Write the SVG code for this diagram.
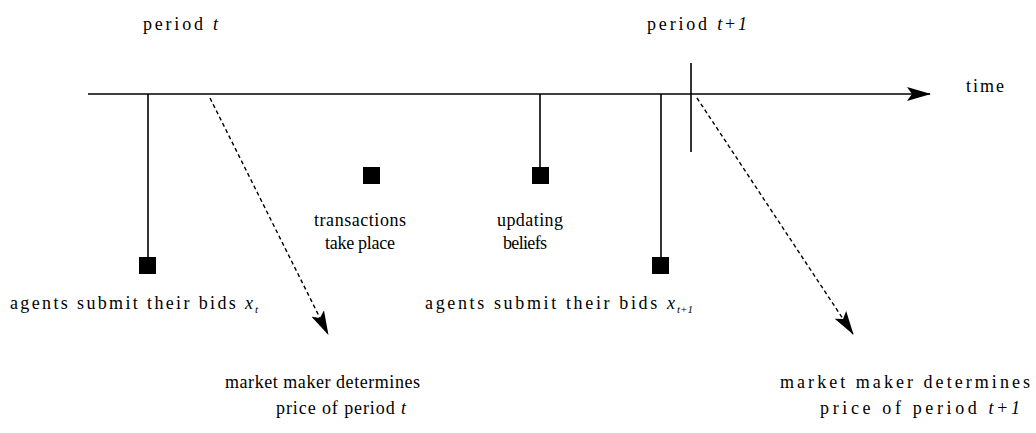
<svg xmlns="http://www.w3.org/2000/svg" width="1036" height="433" viewBox="0 0 1036 433">
<style>
text{font-family:"Liberation Serif","Times New Roman",serif;font-size:18px;fill:#000}
.ln{stroke:#000;stroke-width:1.6;fill:none}
.dash{stroke:#000;stroke-width:1.4;fill:none;stroke-dasharray:4 3}
.sq{fill:#000}
.it{font-style:italic}
.sub{font-size:11px;font-style:italic}
</style>
<defs>
<marker id="ah2" markerWidth="24" markerHeight="14" refX="23" refY="7" orient="auto" markerUnits="userSpaceOnUse">
<path d="M0,0 L24,7 L0,14 L5,7 Z" fill="#000"/>
</marker>
</defs>
<g id="connectors">
<line class="ln" x1="88" y1="94" x2="930" y2="94" marker-end="url(#ah2)"/>
<line class="ln" x1="148" y1="94" x2="148" y2="260"/>
<line class="ln" x1="540" y1="94" x2="540" y2="170"/>
<line class="ln" x1="661" y1="94" x2="661" y2="260"/>
<line class="ln" x1="691" y1="63" x2="691" y2="152"/>
<line class="dash" x1="210" y1="98" x2="328" y2="334" marker-end="url(#ah2)"/>
<line class="dash" x1="697" y1="98" x2="853" y2="334" marker-end="url(#ah2)"/>
</g>
<g id="period-t"><text x="143" y="30" textLength="75" lengthAdjust="spacing">period <tspan class="it">t</tspan></text></g>
<g id="period-t1"><text x="647" y="30" textLength="100" lengthAdjust="spacing">period <tspan class="it">t</tspan>+<tspan class="it">1</tspan></text></g>
<g id="time"><text x="966" y="92" textLength="38" lengthAdjust="spacing">time</text></g>
<g id="bids-t">
<rect class="sq" x="139" y="257" width="17" height="17"/>
<text x="10" y="309" textLength="243" lengthAdjust="spacing">agents submit their bids <tspan class="it">x</tspan></text>
<text x="255" y="313" class="sub">t</text>
</g>
<g id="transactions">
<rect class="sq" x="363" y="167" width="17" height="17"/>
<text x="360" y="226" text-anchor="middle" textLength="92" lengthAdjust="spacing">transactions</text>
<text x="360" y="249" text-anchor="middle" textLength="70" lengthAdjust="spacing">take place</text>
</g>
<g id="updating">
<rect class="sq" x="532" y="167" width="17" height="17"/>
<text x="497" y="226" textLength="66" lengthAdjust="spacing">updating</text>
<text x="503" y="249" textLength="44" lengthAdjust="spacing">beliefs</text>
</g>
<g id="bids-t1">
<rect class="sq" x="652" y="257" width="17" height="17"/>
<text x="425" y="309" textLength="250" lengthAdjust="spacing">agents submit their bids <tspan class="it">x</tspan></text>
<text x="677" y="313" class="sub">t+1</text>
</g>
<g id="mm-t">
<text x="225" y="388" textLength="195" lengthAdjust="spacing">market maker determines</text>
<text x="276" y="414" textLength="130" lengthAdjust="spacing">price of period <tspan class="it">t</tspan></text>
</g>
<g id="mm-t1">
<text x="780" y="388" textLength="250" lengthAdjust="spacing">market maker determines</text>
<text x="820" y="414" textLength="200" lengthAdjust="spacing">price of period <tspan class="it">t</tspan>+<tspan class="it">1</tspan></text>
</g>
</svg>
